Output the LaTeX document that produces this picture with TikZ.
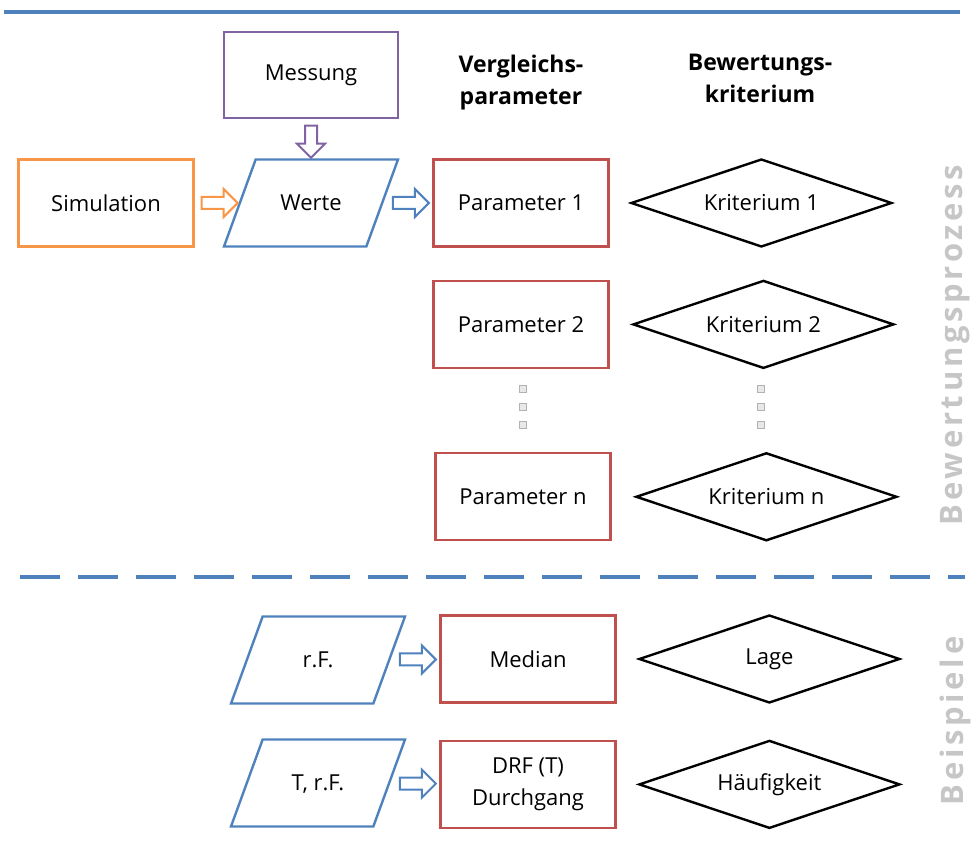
\documentclass[tikz,border=0pt]{standalone}
\usepackage{fontspec}
\setmainfont{Open Sans}
\newfontfamily\spacedfont[LetterSpace=12]{Open Sans}
\usepackage{xcolor}
\usepackage{tikz}
\usetikzlibrary{positioning,shapes.geometric,shapes.arrows}

\definecolor{hblau}{HTML}{4F81BD}
\definecolor{hrot}{HTML}{C0504D}
\definecolor{horange}{HTML}{F79646}
\definecolor{hlila}{HTML}{8064A2}

\begin{document}
\begin{tikzpicture}[x=1pt,y=1pt,node distance=21pt,
font=\fontsize{22}{32}\selectfont,
box/.style={draw,line width=2.4pt,minimum width=175pt,minimum height=87pt,align=center,inner sep=2pt},
werte/.style={trapezium,trapezium left angle=70,trapezium right angle=110,trapezium stretches body=true,
  draw=hblau,line width=2.4pt,minimum width=174pt,text height=19pt,text depth=3pt,inner ysep=32.5pt,inner xsep=0pt},
krit/.style={diamond,aspect=3,draw=black,line width=2.4pt,minimum width=261pt,minimum height=88pt,inner sep=0pt},
harrow/.style={single arrow,draw=#1,line width=2pt,inner sep=5pt,
  single arrow head extend=8pt,single arrow head indent=0pt,minimum height=36pt},
dotbox/.style={draw=gray!60,fill=gray!18,line width=0.9pt,minimum size=7pt,inner sep=0pt},
kopf/.style={font=\fontsize{23}{32}\selectfont\bfseries,align=center},
seite/.style={rotate=90,text=gray!45,font=\fontsize{31}{32}\selectfont\bfseries\spacedfont}]
\useasboundingbox (0,0) rectangle (978,859);

% Linien
\coordinate (t1) at (4,847);
\coordinate (t2) at (960,847);
\draw[hblau,line width=4pt] (t1) -- (t2);
\coordinate (d1) at (20,282);
\coordinate (d2) at (965,282);
\draw[hblau,line width=4pt,dash pattern=on 40pt off 18pt] (d1) -- (d2);

% Ueberschriften
\node[kopf] (hv) at (521,776) {Vergleichs-\\parameter};
\node[kopf] (hb) at (760,781) {Bewertungs-\\kriterium};

% Bewertungsprozess
\node[box,draw=hlila,minimum width=174pt,minimum height=86pt] (mess) at (311,784) {Messung};
\node[box,draw=horange] (sim) at (106,656) {Simulation};
\node[werte] (w) at (311,656) {Werte};
\node[box,draw=hrot] (p1) at (521,656) {Parameter 1};
\node[krit,right=20pt of p1] (k1) {Kriterium 1};
\node[box,draw=hrot,below=32pt of p1] (p2) {Parameter 2};
\node[krit,right=22pt of p2] (k2) {Kriterium 2};
\node[box,draw=hrot,below=83pt of p2,xshift=2pt] (pn) {Parameter n};
\node[krit,right=23pt of pn] (kn) {Kriterium n};

\path (sim.east) -- node[harrow=horange] (a1) {} (w.west);
\path (w.east) -- node[harrow=hblau] (a2) {} (p1.west);
\path (mess.south) -- node[harrow=hlila,shape border rotate=270,minimum height=32pt] (a3) {} (w.north);

\foreach \i/\y in {1/470,2/452,3/434}{
  \node[dotbox] (dl\i) at (523,\y) {};
  \node[dotbox] (dr\i) at (761,\y) {};
}

\node[seite] (s1) at (955,514) {Bewertungsprozess};

% Beispiele
\node[werte] (rf) at (318,199) {r.F.};
\node[box,draw=hrot] (med) at (528,200) {Median};
\node[krit,right=21pt of med] (lage) {Lage};
\node[werte] (trf) at (318,76) {T, r.F.};
\node[box,draw=hrot,below=36pt of med] (drf) {DRF (T)\\Durchgang};
\node[krit,right=21pt of drf] (hfk) {Häufigkeit};

\path (rf.east) -- node[harrow=hblau] (a4) {} (med.west);
\path (trf.east) -- node[harrow=hblau] (a5) {} (drf.west);

\node[seite] (s2) at (955,138) {Beispiele};
\end{tikzpicture}
\end{document}
